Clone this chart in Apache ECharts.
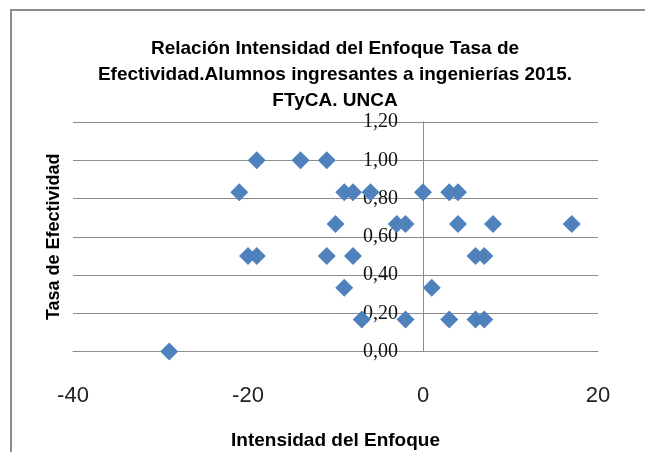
<!DOCTYPE html>
<html>
<head>
<meta charset="utf-8">
<script src="https://cdn.jsdelivr.net/npm/echarts@6/dist/echarts.min.js"></script>
<style>
  html, body { margin: 0; padding: 0; background: #fff; }
  #chart { width: 645px; height: 452px; }
</style>
</head>
<body>
<div id="chart"></div>
<script>
// Intensidad del enfoque (x) vs tasa de efectividad (y)
var intensidad = [-29, -21, -20, -19, -19, -14, -11, -11, -10, -9, -9, -8, -8, -7, -6,
                  -3, -2, -2, 0, 1, 3, 3, 4, 4, 6, 6, 7, 7, 8, 17];
var efectividad = [0, 0.833, 0.5, 1, 0.5, 1, 1, 0.5, 0.667, 0.833, 0.333, 0.833, 0.5, 0.167, 0.833,
                   0.667, 0.667, 0.167, 0.833, 0.333, 0.833, 0.167, 0.833, 0.667, 0.5, 0.167, 0.5, 0.167, 0.667, 0.667];

var puntos = intensidad.map(function (x, i) { return [x, efectividad[i]]; });

var chart = echarts.init(document.getElementById('chart'));
var option = {
    backgroundColor: '#fff',
    animation: false,
    graphic: [{
        type: 'rect',
        shape: { x: 11, y: 10, width: 660, height: 470 },
        style: { fill: 'none', stroke: '#8c8c8c', lineWidth: 2 },
        silent: true
    }],
    title: {
        text: 'Relación Intensidad del Enfoque Tasa de\nEfectividad.Alumnos ingresantes a ingenierías 2015.\nFTyCA. UNCA',
        left: 330,
        top: 31,
        textAlign: 'center',
        textStyle: {
            fontFamily: 'Liberation Sans',
            fontSize: 19,
            fontWeight: 'bold',
            color: '#000',
            lineHeight: 26
        }
    },
    grid: {
        left: 73,
        top: 122,
        width: 525,
        height: 229.5,
        containLabel: false,
        outerBoundsMode: 'none'
    },
    xAxis: {
        type: 'value',
        min: -40,
        max: 20,
        interval: 20,
        name: 'Intensidad del Enfoque',
        nameLocation: 'middle',
        nameGap: 80,
        nameTextStyle: {
            fontFamily: 'Liberation Sans',
            fontSize: 19,
            fontWeight: 'bold',
            color: '#000'
        },
        axisLine: { lineStyle: { color: '#8c8c8c' } },
        axisTick: { show: false },
        axisLabel: {
            margin: 33,
            fontFamily: 'Liberation Sans',
            fontSize: 22,
            color: '#222'
        },
        splitLine: { show: false }
    },
    yAxis: {
        type: 'value',
        min: 0,
        max: 1.2,
        interval: 0.2,
        offset: -350,
        name: 'Tasa de Efectividad',
        nameLocation: 'middle',
        nameRotate: 90,
        nameGap: 360,
        nameTextStyle: {
            fontFamily: 'Liberation Sans',
            fontSize: 18,
            fontWeight: 'bold',
            color: '#000'
        },
        axisLine: { show: true, onZero: false, lineStyle: { color: '#8c8c8c' } },
        axisTick: { show: false },
        axisLabel: {
            margin: 25,
            fontFamily: 'Liberation Serif',
            fontSize: 20,
            color: '#111',
            formatter: function (v) { return v.toFixed(2).replace('.', ','); }
        },
        splitLine: { lineStyle: { color: '#8c8c8c', width: 1 } }
    },
    series: [{
        type: 'scatter',
        data: puntos,
        symbol: 'diamond',
        symbolSize: [18, 18],
        itemStyle: { color: '#4F81BD', opacity: 1 }
    }]
};
chart.setOption(option);
</script>
</body>
</html>
